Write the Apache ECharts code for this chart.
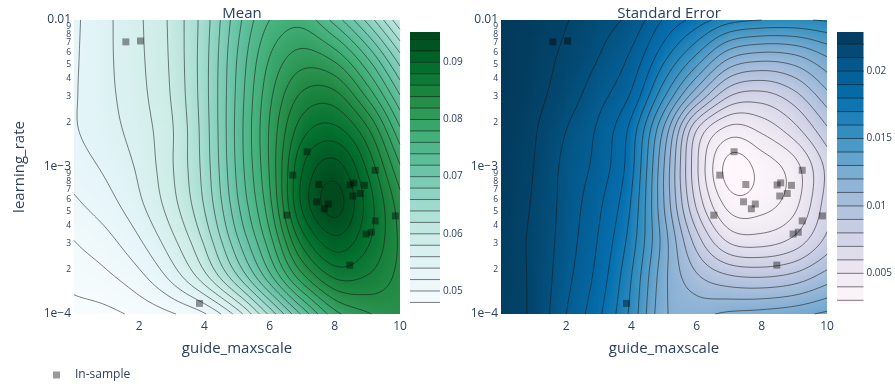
<!DOCTYPE html>
<html><head><meta charset="utf-8">
<script src="https://cdn.jsdelivr.net/npm/echarts@6.0.0/dist/echarts.min.js"></script>
<style>html,body{margin:0;padding:0;background:#fff}#chart{width:895px;height:384px}</style>
</head><body><div id="chart"></div>
<script>
// ---- grid of read-off positions (guide_maxscale, log10(learning_rate)) ----
const guideNodes = [0, 1, 2, 3, 4, 5, 6, 7, 8, 9, 10];
const logLrNodes = [-2, -2.25, -2.5, -2.75, -3, -3.25, -3.5, -3.75, -4];

// ---- Mean surface, rows follow logLrNodes, columns follow guideNodes ----
const meanGrid = [
  [0.0536, 0.0556, 0.0577, 0.0605, 0.0650, 0.0712, 0.0760, 0.0772, 0.0732, 0.0674, 0.0604],
  [0.0537, 0.0556, 0.0576, 0.0604, 0.0652, 0.0720, 0.0780, 0.0808, 0.0792, 0.0738, 0.0666],
  [0.0538, 0.0555, 0.0574, 0.0602, 0.0652, 0.0724, 0.0794, 0.0842, 0.0844, 0.0792, 0.0718],
  [0.0538, 0.0552, 0.0570, 0.0598, 0.0650, 0.0726, 0.0802, 0.0872, 0.0886, 0.0844, 0.0764],
  [0.0530, 0.0544, 0.0564, 0.0598, 0.0648, 0.0724, 0.0802, 0.0898, 0.0928, 0.0876, 0.0802],
  [0.0516, 0.0532, 0.0556, 0.0592, 0.0642, 0.0716, 0.0794, 0.0904, 0.0948, 0.0892, 0.0828],
  [0.0500, 0.0514, 0.0538, 0.0574, 0.0624, 0.0696, 0.0772, 0.0868, 0.0914, 0.0884, 0.0836],
  [0.0487, 0.0496, 0.0514, 0.0546, 0.0592, 0.0656, 0.0732, 0.0812, 0.0862, 0.0858, 0.0834],
  [0.0472, 0.0475, 0.0485, 0.0498, 0.0518, 0.0568, 0.0645, 0.0724, 0.0792, 0.0818, 0.0828]
];

// ---- Standard error surface ----
const seGrid = [
  [0.0228, 0.0225, 0.02205, 0.0214, 0.0207, 0.0189, 0.0176, 0.0164, 0.0160, 0.0159, 0.0161],
  [0.0228, 0.0224, 0.0218, 0.0210, 0.0198, 0.0173, 0.0148, 0.0122, 0.0115, 0.0118, 0.0130],
  [0.0228, 0.0223, 0.0215, 0.0204, 0.0189, 0.0153, 0.0114, 0.0083, 0.0078, 0.0088, 0.0108],
  [0.0227, 0.0221, 0.0210, 0.0198, 0.0176, 0.0128, 0.0070, 0.0046, 0.0052, 0.0066, 0.0088],
  [0.0226, 0.0220, 0.0207, 0.0196, 0.0173, 0.0120, 0.0062, 0.0026, 0.0034, 0.0046, 0.0073],
  [0.0226, 0.0219, 0.0206, 0.0192, 0.0169, 0.0120, 0.0068, 0.0036, 0.0036, 0.0047, 0.0075],
  [0.0225, 0.0218, 0.0205, 0.0189, 0.0165, 0.0125, 0.0085, 0.0058, 0.0055, 0.0063, 0.0083],
  [0.0225, 0.0218, 0.0203, 0.0186, 0.0160, 0.0123, 0.0102, 0.0092, 0.0090, 0.0094, 0.0105],
  [0.0224, 0.0218, 0.0200, 0.0182, 0.0157, 0.0122, 0.0118, 0.0122, 0.0124, 0.0127, 0.0132]
];

const meanLevels = [0.048, 0.050, 0.052, 0.054, 0.056, 0.058, 0.060, 0.062, 0.064, 0.066, 0.068, 0.070,
                    0.072, 0.074, 0.076, 0.078, 0.080, 0.082, 0.084, 0.086, 0.088, 0.090, 0.092, 0.094];
const seLevels = [0.003, 0.004, 0.005, 0.006, 0.007, 0.008, 0.009, 0.010, 0.011, 0.012,
                  0.013, 0.014, 0.015, 0.016, 0.017, 0.018, 0.019, 0.020, 0.021, 0.022];
const meanRange = [0.0479, 0.0953];
const seRange = [0.0028, 0.0229];
const meanTicks = [0.05, 0.06, 0.07, 0.08, 0.09];
const seTicks = [0.005, 0.01, 0.015, 0.02];

// ---- in-sample arms ----
const sampleGuide = [1.59, 2.04, 3.85, 7.15, 6.71, 7.51, 7.44, 7.68, 7.80, 6.53, 8.47,
                     8.58, 8.91, 8.55, 8.78, 9.24, 9.86, 9.24, 8.96, 9.12, 8.46];
const sampleLr = [7.1e-3, 7.2e-3, 1.18e-4, 1.27e-3, 8.8e-4, 7.6e-4, 5.8e-4, 5.2e-4, 5.6e-4, 4.7e-4, 7.55e-4,
                  7.8e-4, 7.5e-4, 6.35e-4, 6.6e-4, 9.5e-4, 4.65e-4, 4.3e-4, 3.5e-4, 3.6e-4, 2.15e-4];

// ---- tick labels ----
const xTickStep = 2;
const yMajorLabels = ['1e\u22124', '1e\u22123', '0.01'];
const yMinorDigits = ['2', '3', '4', '5', '6', '7', '8', '9'];

const greenScale = ['#f7fcfd', '#e5f5f9', '#ccece6', '#99d8c9', '#66c2a4', '#41ae76', '#238b45', '#006d2c', '#00441b'];
const blueScale = ['#fff7fb', '#ece7f2', '#d0d1e6', '#a6bddb', '#74a9cf', '#3690c0', '#0570b0', '#045a8d', '#023858'];

const FONT = '"Open Sans", verdana, arial, sans-serif';
const TXT = '#2a3f5f';
const LINE = 'rgba(20,20,20,0.55)';

// ---------- helpers ----------
function hexToRgb(h) { return [parseInt(h.slice(1, 3), 16), parseInt(h.slice(3, 5), 16), parseInt(h.slice(5, 7), 16)]; }
function makeColor(scale, range) {
  const rgb = scale.map(hexToRgb);
  return function (v) {
    let t = (v - range[0]) / (range[1] - range[0]);
    t = Math.max(0, Math.min(1, t));
    const p = t * (rgb.length - 1);
    const k = Math.min(Math.floor(p), rgb.length - 2);
    const f = p - k;
    const c = [0, 1, 2].map(q => Math.round(rgb[k][q] + (rgb[k + 1][q] - rgb[k][q]) * f));
    return 'rgb(' + c.join(',') + ')';
  };
}
function padded(g) {
  const ny = g.length, nx = g[0].length;
  function get(j, i) {
    if (i < 0) return 2 * get(j, 0) - get(j, 1);
    if (i > nx - 1) return 2 * get(j, nx - 1) - get(j, nx - 2);
    if (j < 0) return 2 * get(0, i) - get(1, i);
    if (j > ny - 1) return 2 * get(ny - 1, i) - get(ny - 2, i);
    return g[j][i];
  }
  const P = [];
  for (let j = -1; j <= ny; j++) { const r = []; for (let i = -1; i <= nx; i++) r.push(get(j, i)); P.push(r); }
  return { P, nx, ny };
}
function cr(p0, p1, p2, p3, t) {
  return 0.5 * (2 * p1 + (-p0 + p2) * t + (2 * p0 - 5 * p1 + 4 * p2 - p3) * t * t + (-p0 + 3 * p1 - 3 * p2 + p3) * t * t * t);
}
function makeSampler(g) {
  const { P, nx, ny } = padded(g);
  return function (fx, fy) {
    const i = Math.min(Math.floor(fx), nx - 2), j = Math.min(Math.floor(fy), ny - 2);
    const tx = fx - i, ty = fy - j;
    const r = [];
    for (let q = -1; q <= 2; q++) {
      const row = P[j + q + 1];
      r.push(cr(row[i], row[i + 1], row[i + 2], row[i + 3], tx));
    }
    return cr(r[0], r[1], r[2], r[3], ty);
  };
}

const SX = 12, SY = 18;
function cellValues(sampler, i, j) {
  const vals = [];
  for (let b = 0; b <= SY; b++) for (let a = 0; a <= SX; a++) vals.push(sampler(i + a / SX, j + b / SY));
  return vals;
}
function cellIndex(params) {
  const nx = guideNodes.length - 1;
  return [params.dataIndex % nx, Math.floor(params.dataIndex / nx)];
}
function fillRenderer(grid, scale, range) {
  const sampler = makeSampler(grid), color = makeColor(scale, range);
  return function (params, api) {
    const [i, j] = cellIndex(params);
    const pA = api.coord([guideNodes[i], logLrNodes[j]]);
    const pB = api.coord([guideNodes[i + 1], logLrNodes[j + 1]]);
    const lastCol = i === guideNodes.length - 2, lastRow = j === logLrNodes.length - 2;
    const x0 = Math.floor(pA[0]);
    const x1 = lastCol ? Math.round(pB[0]) : Math.ceil(pB[0]) + 1;
    const ny = SY * 2;
    const children = [];
    for (let b = 0; b < ny; b++) {
      const yy0 = pA[1] + (pB[1] - pA[1]) * b / ny, yy1 = pA[1] + (pB[1] - pA[1]) * (b + 1) / ny;
      const ya = Math.floor(yy0);
      const yb = (lastRow && b === ny - 1) ? Math.round(yy1) : Math.ceil(yy1) + 1;
      const fy = j + (b + 0.5) / ny;
      const stops = [];
      for (let a = 0; a <= SX; a++) stops.push({ offset: a / SX, color: color(sampler(i + a / SX, fy)) });
      children.push({
        type: 'rect', silent: true,
        shape: { x: x0, y: ya, width: x1 - x0, height: yb - ya },
        style: { fill: { type: 'linear', x: 0, y: 0, x2: 1, y2: 0, colorStops: stops } }
      });
    }
    return { type: 'group', children };
  };
}
function lineRenderer(grid, levels) {
  const sampler = makeSampler(grid);
  return function (params, api) {
    const [i, j] = cellIndex(params);
    const pA = api.coord([guideNodes[i], logLrNodes[j]]);
    const pB = api.coord([guideNodes[i + 1], logLrNodes[j + 1]]);
    const vals = cellValues(sampler, i, j);
    const dx = (pB[0] - pA[0]) / SX, dy = (pB[1] - pA[1]) / SY;
    let d = '';
    const f = n => n.toFixed(2);
    for (let b = 0; b < SY; b++) for (let a = 0; a < SX; a++) {
      const tl = vals[b * (SX + 1) + a], tr = vals[b * (SX + 1) + a + 1];
      const bl = vals[(b + 1) * (SX + 1) + a], br = vals[(b + 1) * (SX + 1) + a + 1];
      const mn = Math.min(tl, tr, bl, br), mx = Math.max(tl, tr, bl, br);
      const X = pA[0] + a * dx, Y = pA[1] + b * dy;
      for (const L of levels) {
        if (L <= mn || L > mx) continue;
        const pts = [];
        if ((tl < L) !== (tr < L)) pts.push([X + dx * (L - tl) / (tr - tl), Y]);
        if ((tr < L) !== (br < L)) pts.push([X + dx, Y + dy * (L - tr) / (br - tr)]);
        if ((bl < L) !== (br < L)) pts.push([X + dx * (L - bl) / (br - bl), Y + dy]);
        if ((tl < L) !== (bl < L)) pts.push([X, Y + dy * (L - tl) / (bl - tl)]);
        const seg = (p, q) => { d += 'M' + f(p[0]) + ' ' + f(p[1]) + 'L' + f(q[0]) + ' ' + f(q[1]); };
        if (pts.length === 2) seg(pts[0], pts[1]);
        else if (pts.length === 4) {
          const c = (tl + tr + bl + br) / 4;
          if ((c < L) === (tl < L)) { seg(pts[0], pts[1]); seg(pts[2], pts[3]); }
          else { seg(pts[0], pts[3]); seg(pts[1], pts[2]); }
        }
      }
    }
    if (!d) return { type: 'group', children: [] };
    return { type: 'path', silent: true, shape: { pathData: d }, style: { fill: null, stroke: LINE, lineWidth: 1 } };
  };
}
function cellData(grid) {
  const out = [];
  for (let j = 0; j < logLrNodes.length - 1; j++)
    for (let i = 0; i < guideNodes.length - 1; i++) out.push([guideNodes[i], logLrNodes[j], grid[j][i]]);
  return out;
}
function bandData(levels, range) {
  const edges = [range[0]].concat(levels.filter(l => l > range[0] && l < range[1])).concat([range[1]]);
  const out = [];
  for (let k = 0; k < edges.length - 1; k++) out.push([0, edges[k], edges[k + 1], k]);
  return out;
}
function barRenderer(scale, range) {
  const color = makeColor(scale, range);
  return function (params, api) {
    const lo = api.value(1), hi = api.value(2), k = api.value(3);
    const p0 = api.coord([0, lo]), p1 = api.coord([1, hi]);
    const children = [{
      type: 'rect', silent: true,
      shape: { x: p0[0], y: p1[1], width: p1[0] - p0[0], height: p0[1] - p1[1] + 0.5 },
      style: { fill: color((lo + hi) / 2) }
    }];
    if (k > 0) children.push({
      type: 'line', silent: true,
      shape: { x1: p0[0], y1: p0[1], x2: p1[0], y2: p0[1] },
      style: { stroke: LINE, lineWidth: 1 }
    });
    return { type: 'group', children };
  };
}

// y labels on log10 positions
const yLabelItems = [];
for (let d = 0; d < 2; d++) {
  yLabelItems.push({ u: -4 + d, text: yMajorLabels[d], major: true });
  yMinorDigits.forEach(t => yLabelItems.push({ u: -4 + d + Math.log10(Number(t)), text: t, major: false }));
}
yLabelItems.push({ u: -2, text: yMajorLabels[2], major: true });
// order the list so that its first two and last two entries are far apart on the axis
// (ECharts only compares those pairs when deciding to drop crowded end labels)
const yFirst = yLabelItems.filter(o => o.text === '1e\u22123' || (o.text === '5' && o.u < -3));
const yLast = yLabelItems.filter(o => o.text === '1e\u22124' || (o.text === '4' && o.u > -3));
const yOrdered = yFirst.concat(yLabelItems.filter(o => yFirst.indexOf(o) < 0 && yLast.indexOf(o) < 0), yLast);

function labelFormatter(items) {
  return v => {
    const o = items.find(q => Math.abs(q.u - v) < 1e-6);
    if (!o) return '';
    return o.major ? '{M|' + o.text + '}' : '{m|' + o.text + '}';
  };
}
const labelRich = {
  M: { fontSize: 12, color: TXT, fontFamily: FONT },
  m: { fontSize: 8.5, color: TXT, fontFamily: FONT }
};
function yAxisFor(gridIndex, withName) {
  return {
    type: 'value', gridIndex, min: -4, max: -2,
    name: withName ? 'learning_rate' : '', nameLocation: 'middle', nameGap: 47,
    nameTextStyle: { fontSize: 15, color: TXT, fontFamily: FONT },
    axisLine: { show: false }, axisTick: { show: false }, splitLine: { show: false },
    axisLabel: {
      customValues: yOrdered.map(o => o.u), margin: 3, hideOverlap: false,
      formatter: labelFormatter(yOrdered), rich: labelRich
    }
  };
}
function xAxisFor(gridIndex) {
  return {
    type: 'value', gridIndex, min: 0, max: 10, interval: xTickStep,
    name: 'guide_maxscale', nameLocation: 'middle', nameGap: 27,
    nameTextStyle: { fontSize: 15, color: TXT, fontFamily: FONT },
    axisLine: { show: false }, axisTick: { show: false }, splitLine: { show: false },
    axisLabel: { showMinLabel: false, fontSize: 12, color: TXT, fontFamily: FONT, margin: 7 }
  };
}
function barYAxis(gridIndex, range, ticks) {
  return {
    type: 'value', gridIndex, min: range[0], max: range[1], position: 'right',
    axisLine: { show: false }, axisTick: { show: false }, splitLine: { show: false },
    axisLabel: { customValues: ticks, fontSize: 10, color: TXT, fontFamily: FONT, margin: 3,
      formatter: v => String(Number(v.toPrecision(6))) }
  };
}

const samplePoints = sampleGuide.map((g, k) => [g, Math.log10(sampleLr[k])]);

const chart = echarts.init(document.getElementById('chart'), null, { renderer: 'canvas' });
chart.setOption({
  animation: false,
  backgroundColor: '#fff',
  textStyle: { fontFamily: FONT },
  title: [
    { text: 'Mean', left: 237, top: 1, textAlign: 'center', textStyle: { fontSize: 15, fontWeight: 'normal', color: TXT, fontFamily: FONT } },
    { text: 'Standard Error', left: 664, top: 1, textAlign: 'center', textStyle: { fontSize: 15, fontWeight: 'normal', color: TXT, fontFamily: FONT } }
  ],
  legend: {
    data: ['In-sample'], left: 48, top: 364, icon: 'rect', itemWidth: 7, itemHeight: 7,
    textStyle: { fontSize: 12, color: TXT, fontFamily: FONT, padding: [0, 0, 0, 10] }
  },
  grid: [
    { left: 74, top: 20, width: 326, height: 294 },
    { left: 501, top: 20, width: 326, height: 294 },
    { left: 410, top: 32, width: 30, height: 271 },
    { left: 837, top: 32, width: 30, height: 271 }
  ],
  xAxis: [xAxisFor(0), xAxisFor(1),
    { type: 'value', gridIndex: 2, min: 0, max: 1, show: false },
    { type: 'value', gridIndex: 3, min: 0, max: 1, show: false }],
  yAxis: [yAxisFor(0, true), yAxisFor(1, false), barYAxis(2, meanRange, meanTicks), barYAxis(3, seRange, seTicks)],
  series: [
    { type: 'custom', xAxisIndex: 0, yAxisIndex: 0, data: cellData(meanGrid), renderItem: fillRenderer(meanGrid, greenScale, meanRange), z: 1, silent: true },
    { type: 'custom', xAxisIndex: 0, yAxisIndex: 0, data: cellData(meanGrid), renderItem: lineRenderer(meanGrid, meanLevels), z: 2, silent: true },
    { type: 'custom', xAxisIndex: 1, yAxisIndex: 1, data: cellData(seGrid), renderItem: fillRenderer(seGrid, blueScale, seRange), z: 1, silent: true },
    { type: 'custom', xAxisIndex: 1, yAxisIndex: 1, data: cellData(seGrid), renderItem: lineRenderer(seGrid, seLevels), z: 2, silent: true },
    { type: 'custom', xAxisIndex: 2, yAxisIndex: 2, data: bandData(meanLevels, meanRange), renderItem: barRenderer(greenScale, meanRange), silent: true },
    { type: 'custom', xAxisIndex: 3, yAxisIndex: 3, data: bandData(seLevels, seRange), renderItem: barRenderer(blueScale, seRange), silent: true },
    { name: 'In-sample', type: 'scatter', xAxisIndex: 0, yAxisIndex: 0, data: samplePoints, symbol: 'rect', symbolSize: 7,
      itemStyle: { color: 'rgba(0,0,0,0.5)' }, z: 5 },
    { name: 'In-sample', type: 'scatter', xAxisIndex: 1, yAxisIndex: 1, data: samplePoints, symbol: 'rect', symbolSize: 7,
      itemStyle: { color: 'rgba(0,0,0,0.5)' }, z: 5 }
  ]
});
</script>
</body></html>
